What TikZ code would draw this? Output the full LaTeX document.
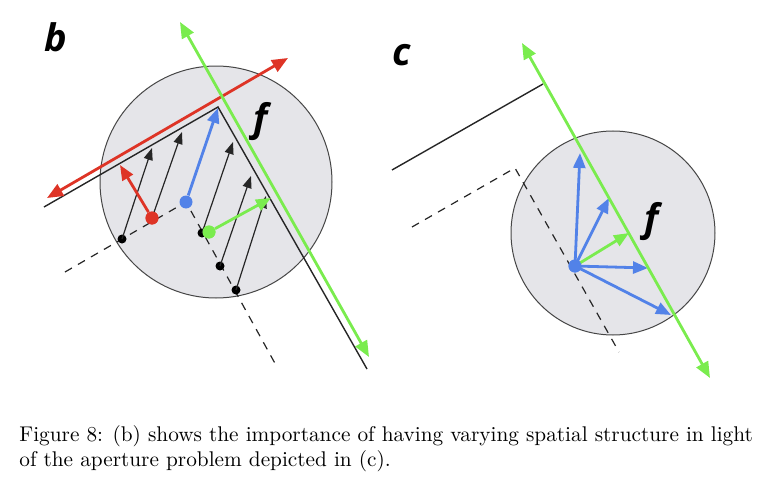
\documentclass[tikz,border=0pt]{standalone}
\usepackage{fontspec}
\newfontfamily\labfont{Open Sans}
\usetikzlibrary{arrows.meta}
\definecolor{cred}{RGB}{222,52,38}
\definecolor{cblue}{RGB}{82,130,232}
\definecolor{cgreen}{RGB}{122,236,78}
\definecolor{cfill}{RGB}{229,229,233}
\definecolor{cedge}{RGB}{70,70,70}
\tikzset{
  lab/.style={font=\labfont\bfseries\itshape\fontsize{19}{19}\selectfont, inner sep=0pt},
  aperture/.style={draw=cedge, line width=0.5pt, fill=cfill},
  edge/.style={draw=black!85, line width=0.7pt},
  oldedge/.style={draw=black!85, line width=0.6pt, dash pattern=on 4pt off 3.5pt},
  blackvec/.style={draw=black!85, line width=0.6pt, -{Triangle[length=6pt,width=4.5pt]}},
  redvec/.style={draw=cred, line width=1.4pt, -{Triangle[length=7.5pt,width=6pt]}},
  bluevec/.style={draw=cblue, line width=1.4pt, -{Triangle[length=7.5pt,width=6pt]}},
  greenvec/.style={draw=cgreen, line width=1.4pt, -{Triangle[length=7.5pt,width=6pt]}},
  redline/.style={draw=cred, line width=1.4pt, {Triangle[length=8pt,width=6.5pt]}-{Triangle[length=8pt,width=6.5pt]}},
  greenline/.style={draw=cgreen, line width=1.4pt, {Triangle[length=8pt,width=6.5pt]}-{Triangle[length=8pt,width=6.5pt]}},
  bdot/.style={circle, fill=black, inner sep=0pt, minimum size=4.5pt},
  cdot/.style={circle, inner sep=0pt, minimum size=6.5pt},
}
\begin{document}
\begin{tikzpicture}[x=0.5pt,y=-0.5pt]
\useasboundingbox (0,0) rectangle (768,487);
% ---------- panel b ----------
\node[aperture, circle, minimum size=116pt, inner sep=0pt] (apb) at (216,182) {};
\node[lab] (labb) at (56,37) {b};
\node[lab] (fb) at (261,122) {f};
\coordinate (bL) at (44,207);
\coordinate (bC) at (218,107);
\coordinate (bR) at (367,369);
\draw[edge] (bL) -- (bC) -- (bR);
\coordinate (dA) at (65,272);
\coordinate (dB) at (277,367);
\coordinate (dC) at (186,202);
\draw[oldedge] (dA) -- (dC) -- (dB);
\node[cdot, fill=cblue] (blueb) at (dC) {};
\node[bdot] (k1) at (122,239) {};
\node[cdot, fill=cred] (redb) at (152,218) {};
\node[bdot] (k3) at (202,233) {};
\node[bdot] (k4) at (220,266) {};
\node[bdot] (k5) at (236,290) {};
\node[cdot, fill=cgreen] (greenb) at (209,232) {};
\coordinate (t1) at (152,148);
\coordinate (t2) at (182,132);
\coordinate (t3) at (233,142);
\coordinate (t4) at (251,176);
\coordinate (t5) at (266,196);
\coordinate (tr) at (120,165);
\coordinate (tb) at (218,108);
\coordinate (tg) at (271,198);
\draw[blackvec] (k1.center) -- (t1);
\draw[blackvec] (redb.center) -- (t2);
\draw[blackvec] (k3.center) -- (t3);
\draw[blackvec] (k4.center) -- (t4);
\draw[blackvec] (k5.center) -- (t5);
\draw[redvec] (redb) -- (tr);
\draw[bluevec] (blueb) -- (tb);
\draw[greenvec] (greenb) -- (tg);
\node[cdot, fill=cred] at (redb) {};
\node[cdot, fill=cgreen] at (greenb) {};
\coordinate (rA) at (47,198);
\coordinate (rB) at (288,58);
\draw[redline] (rA) -- (rB);
\coordinate (gA) at (180,22);
\coordinate (gB) at (369,357);
\draw[greenline] (gA) -- (gB);
% ---------- panel c ----------
\node[aperture, circle, minimum size=102pt, inner sep=0pt] (apc) at (613,233) {};
\node[lab] (labc) at (402,55) {c};
\node[lab] (fc) at (652,222) {f};
\coordinate (cL) at (392,170);
\coordinate (cC) at (543,84);
\draw[edge] (cL) -- (cC);
\coordinate (cdA) at (412,227);
\coordinate (cdC) at (515,168);
\coordinate (cdB) at (619,352);
\draw[oldedge] (cdA) -- (cdC) -- (cdB);
\node[cdot, fill=cblue] (bluec) at (575,266) {};
\coordinate (c1) at (580,153);
\coordinate (c2) at (609,198);
\coordinate (c3) at (629,233);
\coordinate (c4) at (648,268);
\coordinate (c5) at (671,315);
\draw[bluevec] (bluec.center) -- (c1);
\draw[bluevec] (bluec.center) -- (c2);
\draw[greenvec] (bluec.center) -- (c3);
\draw[bluevec] (bluec.center) -- (c4);
\draw[bluevec] (bluec.center) -- (c5);
\node[cdot, fill=cblue] at (bluec) {};
\coordinate (cgA) at (522,43);
\coordinate (cgB) at (710,378);
\draw[greenline] (cgA) -- (cgB);
% ---------- caption ----------
\node[anchor=base west, inner sep=0pt, align=left, font=\fontsize{10.64}{12.35}\selectfont] (cap) at (19,466.5)
  {Figure 8: (b) shows the importance of having varying spatial structure in light\\of the aperture problem depicted in (c).};
\end{tikzpicture}
\end{document}
